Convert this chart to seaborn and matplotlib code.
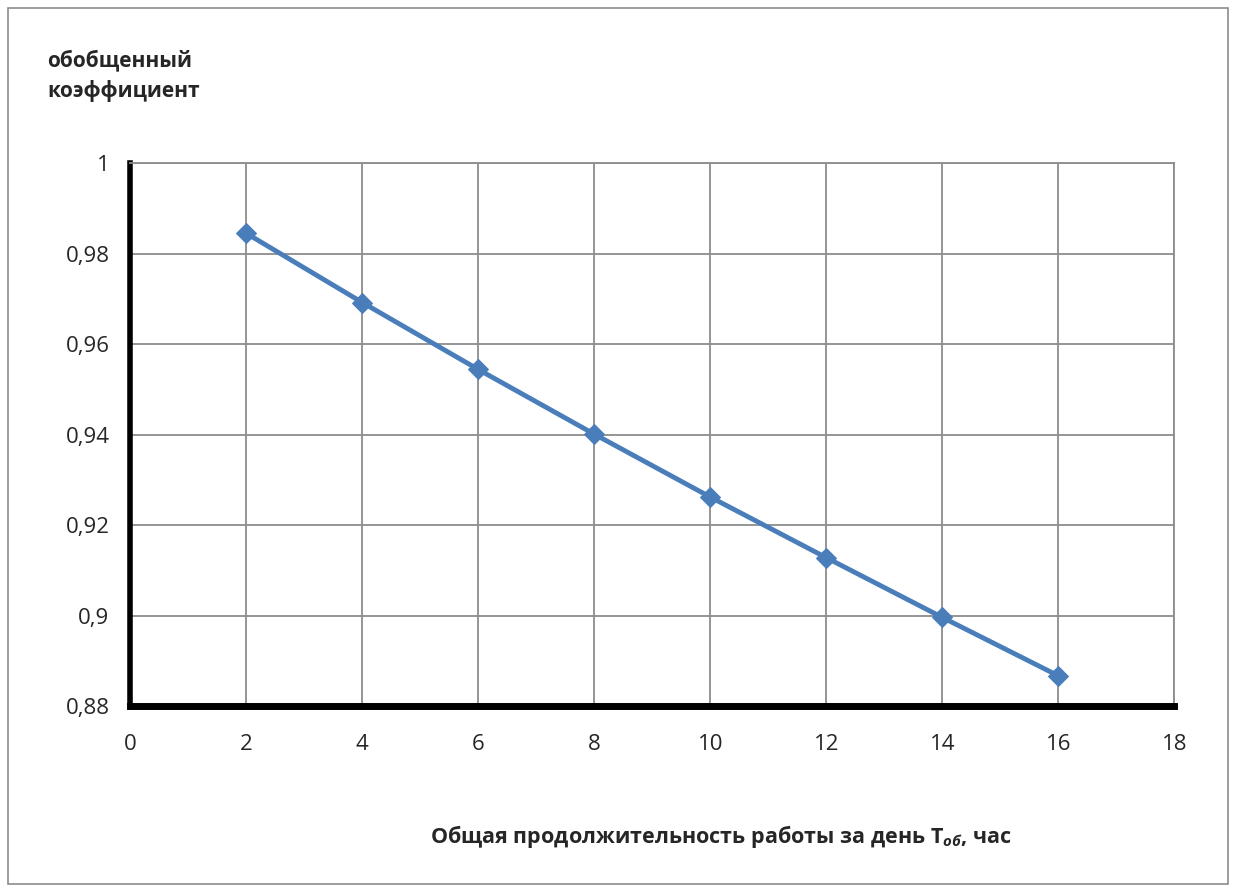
import matplotlib
matplotlib.use("Agg")
import matplotlib.pyplot as plt
from matplotlib.patches import Rectangle
import seaborn as sns
import pandas as pd

# Hours of work per day and the resulting generalised coefficient
hours = [2, 4, 6, 8, 10, 12, 14, 16]
coef = [0.9845, 0.9692, 0.9544, 0.9401, 0.9262, 0.9128, 0.8996, 0.8867]
x_ticks = [0, 2, 4, 6, 8, 10, 12, 14, 16, 18]
y_ticks = [0.88, 0.90, 0.92, 0.94, 0.96, 0.98, 1.00]
y_labels = ["0,88", "0,9", "0,92", "0,94", "0,96", "0,98", "1"]

sns.set_style("white")
plt.rcParams["font.family"] = ["Open Sans", "DejaVu Sans"]
plt.rcParams["mathtext.fontset"] = "custom"
plt.rcParams["mathtext.rm"] = "Open Sans:bold"
plt.rcParams["mathtext.it"] = "Open Sans:bold:italic"
plt.rcParams["mathtext.bf"] = "Open Sans:bold"

df = pd.DataFrame({"hours": hours, "coef": coef})

fig = plt.figure(figsize=(12.36, 8.92), dpi=100)
ax = fig.add_axes([0.1055, 0.2085, 0.8445, 0.6085])

# Outer chart frame
fig.patches.append(Rectangle((0.0065, 0.009), 0.987, 0.982, transform=fig.transFigure,
                             fill=False, edgecolor="#8c8c8c", linewidth=1.2))

sns.lineplot(data=df, x="hours", y="coef", ax=ax, color="#4a7ebb", linewidth=3.5,
             marker="D", markersize=10, markeredgecolor="#4a7ebb", zorder=3)

ax.set_xlim(0, 18)
ax.set_ylim(0.88, 1.0)
ax.set_xticks(x_ticks)
ax.set_xticklabels([str(v) for v in x_ticks])
ax.set_yticks(y_ticks)
ax.set_yticklabels(y_labels)
ax.tick_params(axis="both", labelsize=16, length=0)
ax.tick_params(axis="y", pad=15)
ax.tick_params(axis="x", pad=20)

ax.grid(True, color="#8c8c8c", linewidth=1.3)
ax.set_axisbelow(True)

ax.spines["left"].set_color("black")
ax.spines["left"].set_linewidth(4)
ax.spines["bottom"].set_color("black")
ax.spines["bottom"].set_linewidth(5)
for side in ("top", "right"):
    ax.spines[side].set_color("#8c8c8c")
    ax.spines[side].set_linewidth(1.3)

ax.set_xlabel("")
ax.set_ylabel("")

fig.text(0.038, 0.945, "обобщенный\nкоэффициент", fontsize=15, fontweight="bold",
         ha="left", va="top", linespacing=1.55)
fig.text(0.348, 0.062, r"Общая продолжительность работы за день Т$_{\mathit{об}}$, час",
         fontsize=15.5, fontweight="bold", ha="left", va="center")

fig.savefig("out.png", dpi=100)
